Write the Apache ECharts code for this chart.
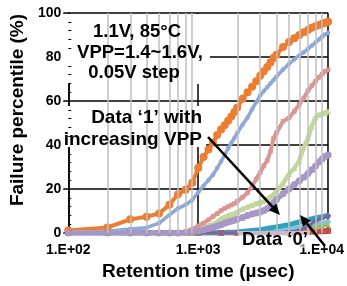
<!DOCTYPE html>
<html>
<head>
<meta charset="utf-8">
<script src="https://cdn.jsdelivr.net/npm/echarts@6/dist/echarts.min.js"></script>
<style>
  html, body { margin: 0; padding: 0; background: #fff; }
  #main { width: 347px; height: 286px; }
</style>
</head>
<body>
<div id="main"></div>
<script>
// retention time samples (usec)
const times1 = [100, 200, 300, 400, 500, 600, 700, 800, 900, 1000,
  1100, 1200, 1300, 1400, 1500, 1600, 1700, 1800, 1900, 2000,
  2200, 2400, 2600, 2800, 3000, 3200, 3400, 3600, 3800, 4000,
  4500, 5000, 5500, 6000, 6500, 7000, 7500, 8000, 8500, 9000, 9500, 10000];
const times0 = [100, 200, 300, 400, 500, 600, 700, 800, 900, 1000,
  1500, 2000, 2500, 3000, 3500, 4000, 5000, 6000, 7000, 8000, 9000, 10000];

// Data '1' failure percentile (%), one per VPP step
const vpp1 = [1.1, 2.5, 6.2, 7.4, 8.9, 12.8, 17.6, 19.7, 22.8, 29.5,
  34.5, 38, 41, 44.5, 47, 49, 51, 53, 55, 57,
  61, 64, 66.5, 69, 71.5, 73.5, 75.5, 77.5, 79.5, 81,
  84.5, 86.8, 88.5, 90, 91.3, 92.3, 93.3, 94, 94.6, 95.1, 95.6, 96];
const vpp2 = [0.2, 0.8, 1.8, 2.4, 4.5, 8.2, 11.2, 12.8, 15, 18.5,
  21.5, 24, 26.5, 29.5, 32.5, 35.5, 38.5, 41, 43.2, 45.5,
  49.3, 52.5, 56.3, 59.5, 62.5, 64.5, 66.3, 68, 69.6, 71,
  74.3, 76.8, 79, 80.7, 82.2, 83.7, 85.2, 86.6, 88, 89.3, 90.3, 91];
const vpp3 = [0, 0, 0, 0, 0, 0, 0.2, 0.6, 1.8, 3.2,
  4.5, 6, 7.5, 8.8, 10.2, 11.2, 12, 12.7, 13.4, 14.4,
  16.3, 18.3, 21.3, 24.5, 27.5, 30.5, 33, 37, 43, 45.5,
  50.8, 52.3, 55.3, 58.5, 61.3, 64.7, 67, 69, 70.8, 72.2, 73.5, 74.2];
const vpp4 = [0, 0, 0, 0, 0, 0, 0, 0, 0.2, 1,
  2.4, 3.3, 4, 5, 6.5, 7.3, 8, 8.5, 8.9, 9.5,
  11, 11.9, 12.6, 13.4, 13.9, 14.4, 15.5, 16.5, 17.5, 19,
  22.5, 26.8, 29.5, 33, 39, 43.2, 48.8, 52.5, 53.8, 54.3, 54.8, 55.2];
const vpp5 = [0, 0, 0, 0, 0, 0, 0, 0.2, 0.5, 0.9,
  1.4, 2, 2.6, 3.2, 3.8, 4.4, 5, 5.4, 5.8, 6.2,
  7, 8, 8.6, 9.1, 9.6, 10.2, 11, 12.3, 13.8, 15.2,
  17.8, 20, 22, 23.8, 25.3, 27, 28.7, 30.5, 32.3, 33.6, 34.8, 35.5];

// Data '0'
const d0a = [0, 0, 0, 0, 0, 0, 0, 0, 0, 0, 0, 0.2, 0.4, 0.6, 0.9, 1.2, 1.8, 2.5, 3.2, 3.8, 4.4, 5];
const d0b = [0, 0, 0, 0, 0, 0, 0, 0, 0, 0, 0.2, 0.5, 1, 1.5, 2.2, 2.8, 3.8, 5, 6, 6.8, 7.4, 8];
const d0c = [0, 0, 0, 0, 0, 0, 0, 0, 0, 0, 0, 0, 0, 0, 0, 0, 0.2, 0.8, 1.8, 2.7, 3.3, 3.8];
const d0d = [0, 0, 0, 0, 0, 0, 0, 0, 0, 0, 0, 0, 0, 0, 0, 0, 0.3, 1, 3, 5.5, 6.8, 7.6];
const d0e = [0, 0, 0, 0, 0, 0, 0, 0, 0, 0, 0, 0, 0, 0, 0, 0, 0, 0.2, 0.4, 0.6, 0.8, 1];

const yTicks = [0, 20, 40, 60, 80, 100];
const minorGrid = [200, 300, 400, 500, 600, 700, 800, 900, 2000, 3000, 4000, 5000, 6000, 7000, 8000, 9000];

const FONT = '"Liberation Sans", Arial, sans-serif';

function pairs(ts, vs) {
  return ts.map((t, i) => [t, vs[i]]);
}

function mkSeries(name, ts, vs, color, symbol, size, width) {
  return {
    name: name,
    type: 'line',
    data: pairs(ts, vs),
    symbol: symbol,
    symbolSize: size,
    showSymbol: true,
    showAllSymbol: true,
    itemStyle: { color: color, borderWidth: 0 },
    lineStyle: { color: color, width: width },
    z: 2,
    silent: true
  };
}

function arrow(x1, y1, x2, y2) {
  const dx = x2 - x1, dy = y2 - y1;
  const len = Math.hypot(dx, dy), ux = dx / len, uy = dy / len;
  const hl = 11, hw = 5;
  const bx = x2 - ux * hl, by = y2 - uy * hl;
  return [
    { type: 'line', z: 6, shape: { x1: x1, y1: y1, x2: bx, y2: by }, style: { stroke: '#000', lineWidth: 2.5 } },
    { type: 'polygon', z: 6, shape: { points: [[x2, y2], [bx - uy * hw, by + ux * hw], [bx + uy * hw, by - ux * hw]] }, style: { fill: '#000' } }
  ];
}

function txt(s, x, y, align, size) {
  return {
    type: 'text', z: 7, x: x, y: y,
    style: { text: s, font: 'bold ' + (size || 18.5) + 'px ' + FONT, fill: '#000', align: align, verticalAlign: 'middle' }
  };
}

let chartDom = document.getElementById('main');
let myChart = echarts.init(chartDom);

let option = {
  animation: false,
  backgroundColor: '#fff',
  grid: { left: 60, right: 16, top: 13, bottom: 49 },
  xAxis: {
    type: 'log',
    logBase: 10,
    min: 100,
    max: 10000,
    name: 'Retention time (\u00b5sec)',
    nameLocation: 'middle',
    nameGap: 29,
    nameTextStyle: { fontFamily: FONT, fontWeight: 'bold', fontSize: 19, color: '#000' },
    axisLine: { show: true, lineStyle: { color: '#000', width: 1.5 } },
    axisTick: { show: false },
    axisLabel: {
      margin: 10,
      fontFamily: FONT, fontWeight: 'bold', fontSize: 14, color: '#000',
      formatter: function (v) {
        const s = '1.E+0' + Math.round(Math.log10(v));
        return v >= 10000 ? '{r|' + s + '}' : s;
      },
      rich: { r: { fontFamily: FONT, fontWeight: 'bold', fontSize: 14, color: '#000', padding: [0, 13, 0, 0] } }
    },
    splitLine: { show: true, lineStyle: { color: '#000', width: 1.5 } }
  },
  yAxis: [
    {
      type: 'value',
      min: yTicks[0],
      max: yTicks[yTicks.length - 1],
      interval: 20,
      name: 'Failure percentile (%)',
      nameLocation: 'middle',
      nameGap: 34,
      nameRotate: 90,
      nameTextStyle: { fontFamily: FONT, fontWeight: 'bold', fontSize: 19, color: '#000', padding: [0, 0, 0, 26] },
      axisLine: { show: true, lineStyle: { color: '#000', width: 1.5 } },
      axisTick: { show: true, length: 5, lineStyle: { color: '#000', width: 1.5 } },
      axisLabel: { margin: 7, fontFamily: FONT, fontWeight: 'bold', fontSize: 14, color: '#000' },
      splitLine: { show: true, lineStyle: { color: '#000', width: 1.5 } }
    },
    {
      // minor ticks, drawn inside
      type: 'value',
      min: yTicks[0],
      max: yTicks[yTicks.length - 1],
      interval: 20,
      position: 'left',
      z: 10,
      axisLine: { show: false },
      axisTick: { show: false, inside: true },
      axisLabel: { show: false },
      splitLine: { show: false },
      minorTick: { show: true, splitNumber: 5, length: 3, lineStyle: { color: '#000', width: 1 } }
    }
  ],
  series: [
    {
      name: 'minor-grid',
      type: 'line',
      data: [],
      z: 1,
      silent: true,
      markLine: {
        silent: true,
        symbol: ['none', 'none'],
        label: { show: false },
        lineStyle: { color: '#BFBFBF', width: 1.5, type: 'solid' },
        data: minorGrid.map(v => ({ xAxis: v }))
      }
    },
    mkSeries('d0-red', times0, d0e, '#C0504D', 'rect', 6, 5),
    mkSeries('d0-light', times0, d0a, '#7FC6D8', 'diamond', 6, 5),
    mkSeries('d0-teal', times0, d0b, '#2FA2BE', 'diamond', 6, 5),
    mkSeries('d0-green', times0, d0c, '#9BBB59', 'triangle', 5, 3.5),
    mkSeries('d0-purple', times0, d0d, '#7F64A1', 'circle', 5, 3.5),
    mkSeries('1.60V', times1, vpp1, '#ED7D31', 'circle', 8, 4),
    mkSeries('1.55V', times1, vpp2, '#8EA8D8', 'circle', 4.5, 3.5),
    mkSeries('1.50V', times1, vpp3, '#DA9694', 'rect', 4.5, 4),
    mkSeries('1.45V', times1, vpp4, '#C4D79B', 'triangle', 6, 4.5),
    mkSeries('1.40V', times1, vpp5, '#A797C6', 'circle', 7, 5)
  ],
  graphic: {
    elements: [
      { type: 'rect', z: 5, shape: { x: 61, y: 14, width: 149, height: 70 }, style: { fill: '#fff' } },
      { type: 'rect', z: 5, shape: { x: 61, y: 106, width: 145, height: 41 }, style: { fill: '#fff' } },
      { type: 'rect', z: 5, shape: { x: 238, y: 231, width: 72, height: 17 }, style: { fill: 'rgba(255,255,255,0.55)' } },
      txt('1.1V, 85\u00b0C', 137, 32, 'center'),
      txt('VPP=1.4~1.6V,', 140, 53, 'center'),
      txt('0.05V step', 134, 73, 'center'),
      txt('Data \u20181\u2019 with', 202, 118, 'right', 19),
      txt('increasing VPP', 202, 140, 'right', 19),
      txt('Data \u20180\u2019', 275, 240, 'center', 18.5)
    ].concat(arrow(208, 137, 280, 215)).concat(arrow(325, 246, 300, 215))
  }
};

myChart.setOption(option);
</script>
</body>
</html>
